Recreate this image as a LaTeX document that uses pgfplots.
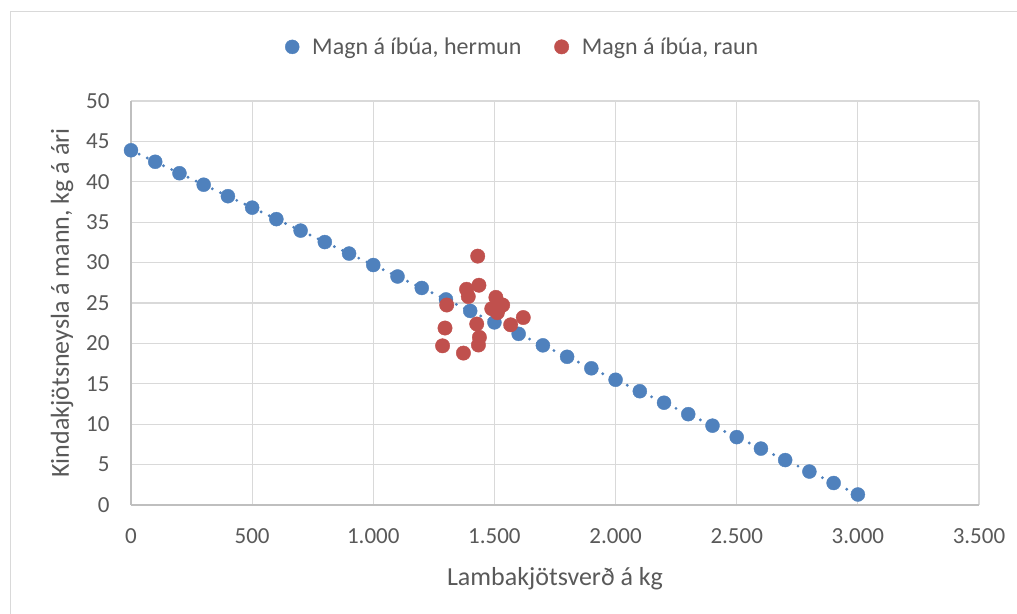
\documentclass[border=0pt]{standalone}
\usepackage{fontspec}
\setmainfont{Carlito}
\usepackage{pgfplots}
\pgfplotsset{compat=1.18}
\definecolor{serblue}{HTML}{4F81BD}
\definecolor{serred}{HTML}{C0504D}
\definecolor{tickgray}{HTML}{595959}
\definecolor{gridgray}{HTML}{D9D9D9}
\definecolor{axisgray}{HTML}{BFBFBF}
\begin{document}
\begin{tikzpicture}
\path[use as bounding box] (0bp,0bp) rectangle (1017bp,614bp);
\draw[gridgray, line width=1.5bp] (10.5bp,0bp) -- (10.5bp,602.5bp) -- (1017bp,602.5bp);
\begin{axis}[
  at={(131bp,109bp)}, anchor=south west,
  scale only axis, width=848bp, height=404bp,
  xmin=0, xmax=3500, ymin=0, ymax=50,
  xtick={0,500,...,3500},
  xticklabels={0,500,1.000,1.500,2.000,2.500,3.000,3.500},
  ytick={0,5,...,50},
  axis x line*=bottom, axis y line*=left,
  axis line style={axisgray, line width=1.2bp, -},
  grid=major,
  major grid style={gridgray, line width=1.2bp},
  xtick style={draw=none},
  ytick style={draw=none},
  /pgf/number format/assume math mode=true,
  tick label style={font=\fontsize{23bp}{27bp}\selectfont, text=tickgray},
  xticklabel style={yshift=-20bp},
  yticklabel style={xshift=-18bp},
  label style={font=\fontsize{26bp}{31bp}\selectfont, text=tickgray},
  xlabel={Lambakjötsverð á kg},
  ylabel={Kindakjötsneysla á mann, kg á ári},
  xlabel style={at={(axis description cs:0.5,-0.183)}, anchor=center},
  ylabel style={at={(axis description cs:-0.0814,0.5)}, anchor=center},
  legend style={at={(0.462,1.134)}, anchor=center, draw=none, fill=none,
    legend columns=2, font=\fontsize{24bp}{28bp}\selectfont, text=tickgray,
    /tikz/every odd column/.append style={column sep=11bp},
    /tikz/every even column/.append style={column sep=31bp}},
  legend cell align=left,
]
\addplot[forget plot, serblue, line width=3.2bp, line cap=round, dash pattern=on 0bp off 9bp] coordinates {
(0,43.9) (100,42.48) (200,41.06) (300,39.64) (400,38.22) (500,36.8) (600,35.38) (700,33.96) (800,32.54) (900,31.12) (1000,29.7) (1100,28.28) (1200,26.86) (1300,25.44) (1400,24.02) (1500,22.6) (1600,21.18) (1700,19.76) (1800,18.34) (1900,16.92) (2000,15.5) (2100,14.08) (2200,12.66) (2300,11.24) (2400,9.82) (2500,8.4) (2600,6.98) (2700,5.56) (2800,4.14) (2900,2.72) (3000,1.3)
};
\addplot[only marks, mark=*, mark size=7bp, mark options={fill=serblue, draw=serblue}] coordinates {
(0,43.9) (100,42.48) (200,41.06) (300,39.64) (400,38.22) (500,36.8) (600,35.38) (700,33.96) (800,32.54) (900,31.12) (1000,29.7) (1100,28.28) (1200,26.86) (1300,25.44) (1400,24.02) (1500,22.6) (1600,21.18) (1700,19.76) (1800,18.34) (1900,16.92) (2000,15.5) (2100,14.08) (2200,12.66) (2300,11.24) (2400,9.82) (2500,8.4) (2600,6.98) (2700,5.56) (2800,4.14) (2900,2.72) (3000,1.3)
};
\addlegendentry{Magn á íbúa, hermun}
\addplot[only marks, mark=*, mark size=7.2bp, mark options={fill=serred, draw=serred}] coordinates {
(1431,30.8) (1436,27.2) (1385,26.7) (1392,25.8) (1303,24.75) (1506,25.7) (1534,24.75) (1489,24.3) (1512,23.8) (1520,24.4) (1619,23.2) (1567,22.3) (1427,22.4) (1296,21.9) (1438,20.75) (1434,19.8) (1286,19.7) (1372,18.8)
};
\addlegendentry{Magn á íbúa, raun}
\end{axis}
\end{tikzpicture}
\end{document}
